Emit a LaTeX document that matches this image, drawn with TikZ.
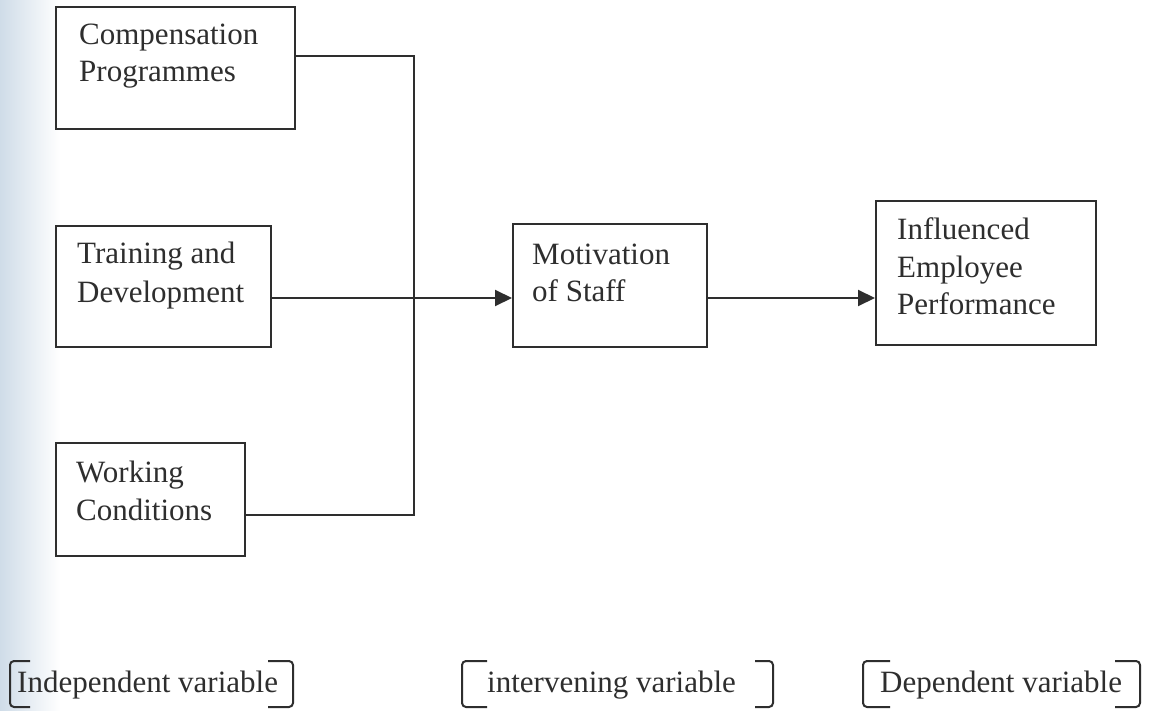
\documentclass[tikz,border=0pt]{standalone}
\usepackage{fontspec}
\setmainfont{Liberation Serif}
\usetikzlibrary{arrows.meta}
\definecolor{ink}{HTML}{2E2E2E}
\definecolor{scan}{HTML}{CFDCE8}
\tikzset{
  box/.style={draw=ink, line width=2pt, rectangle, inner sep=0pt, anchor=north west},
  lbl/.style={text=ink, inner sep=0pt, anchor=base west, font=\fontsize{31}{36}\selectfont},
  conn/.style={draw=ink, line width=2pt},
  arr/.style={conn, -{Triangle[length=17pt,width=16pt]}},
  brk/.style={draw=ink, line width=2pt, rounded corners=4pt}
}
\begin{document}
\begin{tikzpicture}[x=1pt,y=-1pt]
\useasboundingbox (0,0) rectangle (1153,711);
\fill[white] (0,0) rectangle (1153,711);
\shade[left color=scan, right color=white] (0,0) rectangle (60,711);
% boxes
\node[box, minimum width=239pt, minimum height=122pt] (comp) at (55,6) {};
\node[box, minimum width=215pt, minimum height=121pt] (train) at (55,225) {};
\node[box, minimum width=189pt, minimum height=113pt] (work) at (55,442) {};
\node[box, minimum width=194pt, minimum height=123pt] (motiv) at (512,223) {};
\node[box, minimum width=220pt, minimum height=144pt] (infl) at (875,200) {};
% labels
\node[lbl] (comp1) at (79,45) {Compensation};
\node[lbl] (comp2) at (79,82) {Programmes};
\node[lbl] (train1) at (77,264) {Training and};
\node[lbl] (train2) at (77,302) {Development};
\node[lbl] (work1) at (76,482) {Working};
\node[lbl] (work2) at (76,520) {Conditions};
\node[lbl] (motiv1) at (532,265) {Motivation};
\node[lbl] (motiv2) at (532,301) {of Staff};
\node[lbl] (infl1) at (897,240) {Influenced};
\node[lbl] (infl2) at (897,277) {Employee};
\node[lbl] (infl3) at (897,314) {Performance};
% connectors
\coordinate (j1) at (414,56);
\coordinate (j2) at (414,515);
\coordinate (ly) at (0,298);
\draw[conn] (comp.east |- j1) -- (j1) -- (j2) -- (work.east |- j2);
\draw[arr] (train.east |- ly) -- (motiv.west |- ly);
\draw[arr] (motiv.east |- ly) -- (infl.west |- ly);
% bracket labels
\node[lbl] (indep) at (17,692) {Independent variable};
\node[lbl] (inter) at (487,692) {intervening variable};
\node[lbl] (dep) at (880,692) {Dependent variable};
\draw[brk] (30,661) -- (10,661) -- (10,707) -- (30,707);
\draw[brk] (268,661) -- (293,661) -- (293,707) -- (268,707);
\draw[brk] (487,661) -- (462,661) -- (462,707) -- (487,707);
\draw[brk] (755,661) -- (773,661) -- (773,707) -- (755,707);
\draw[brk] (890,661) -- (863,661) -- (863,707) -- (890,707);
\draw[brk] (1115,661) -- (1140,661) -- (1140,707) -- (1115,707);
\end{tikzpicture}
\end{document}
